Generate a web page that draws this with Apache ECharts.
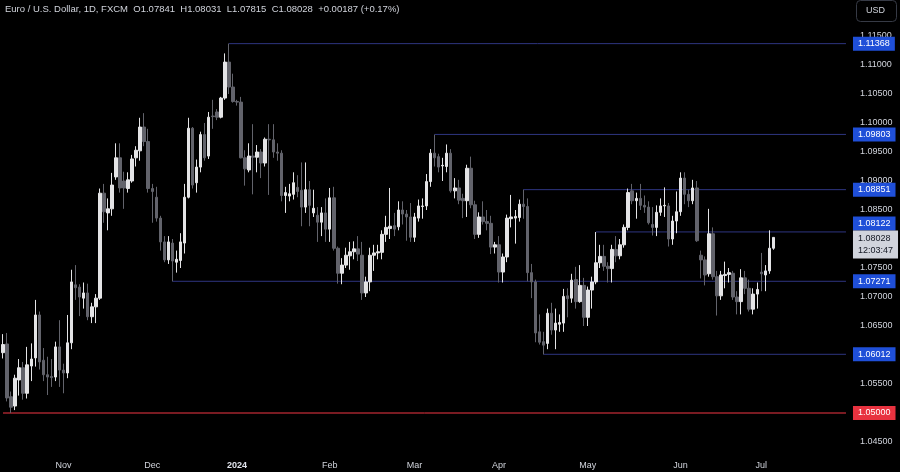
<!DOCTYPE html>
<html>
<head>
<meta charset="utf-8">
<script src="https://cdn.jsdelivr.net/npm/echarts@6/dist/echarts.min.js"></script>
<style>
html, body { margin: 0; padding: 0; background: #000; }
#chart { width: 900px; height: 472px; }
</style>
</head>
<body>
<div id="chart"></div>
<script>
// EURUSD daily candles, 11 Oct 2023 -> 4 Jul 2024 (weekdays)
const symbolTitle = 'Euro / U.S. Dollar, 1D, FXCM';
const firstDate = '2023-10-11';
const futureSlots = 18;
const countdown = '12:03:47';
const monthNames = ['Jan','Feb','Mar','Apr','May','Jun','Jul','Aug','Sep','Oct','Nov','Dec'];

const opens = [
  1.0604, 1.0619, 1.0528, 1.0512, 1.0557, 1.0578, 1.0534, 1.0581, 1.0595, 1.0669, 1.0591, 1.0566, 1.0563, 1.0562, 1.0614,
  1.0574, 1.0569, 1.0621, 1.0721, 1.0717, 1.0698, 1.0707, 1.0666, 1.0683, 1.0698, 1.0879, 1.0845, 1.0852, 1.0907, 1.0940, 1.0900, 1.0887, 1.0900, 1.0940, 1.0952, 1.0993, 1.0968,
  1.0887, 1.0872, 1.0836, 1.0795, 1.0764, 1.0793, 1.0760, 1.0763, 1.0793, 1.0872, 1.0991, 1.0897, 1.0924, 1.0980, 1.0943, 1.1012, 1.1019, 1.1010, 1.1043, 1.1105, 1.1062,
  1.1037, 1.1036, 1.0940, 1.0919, 1.0943, 1.0941, 1.0950, 1.0931, 1.0972, 1.0971, 1.0950, 1.0948, 1.0875, 1.0874, 1.0877, 1.0889, 1.0884, 1.0855, 1.0885, 1.0845, 1.0841, 1.0829, 1.0845,
  1.0817, 1.0871, 1.0784, 1.0741, 1.0755, 1.0771, 1.0778, 1.0783, 1.0772, 1.0707, 1.0726, 1.0772, 1.0776, 1.0777, 1.0808, 1.0818, 1.0823, 1.0821, 1.0850, 1.0843, 1.0838,
  1.0803, 1.0836, 1.0856, 1.0857, 1.0899, 1.0948, 1.0942, 1.0926, 1.0925, 1.0948, 1.0883, 1.0888, 1.0870, 1.0866, 1.0922, 1.0859, 1.0808, 1.0838, 1.0830, 1.0827, 1.0786,
  1.0790, 1.0743, 1.0769, 1.0835, 1.0836, 1.0837, 1.0860, 1.0856, 1.0742, 1.0726, 1.0640, 1.0623, 1.0620, 1.0672, 1.0643, 1.0653, 1.0655, 1.0702, 1.0698, 1.0730, 1.0692, 1.0720,
  1.0665, 1.0712, 1.0726, 1.0759, 1.0770, 1.0753, 1.0749, 1.0782, 1.0771, 1.0790, 1.0820, 1.0883, 1.0866, 1.0870, 1.0858, 1.0855, 1.0825, 1.0820, 1.0846, 1.0857, 1.0857, 1.0800, 1.0831,
  1.0847, 1.0905, 1.0877, 1.0866, 1.0888, 1.0772, 1.0764, 1.0740, 1.0809, 1.0735, 1.0702, 1.0737, 1.0739, 1.0741, 1.0700, 1.0692, 1.0733, 1.0715, 1.0679, 1.0705,
  1.0743, 1.0738, 1.0745, 1.07841
];
const highs = [
  1.0636, 1.0638, 1.0537, 1.0566, 1.0593, 1.0588, 1.0614, 1.0620, 1.0695, 1.0675, 1.0612, 1.0597, 1.0593, 1.0623, 1.0660,
  1.0585, 1.0669, 1.0747, 1.0755, 1.0722, 1.0725, 1.0723, 1.0690, 1.0705, 1.0887, 1.0895, 1.0870, 1.0914, 1.0965, 1.0965, 1.0916, 1.0915, 1.0945, 1.0960, 1.1009, 1.1017, 1.0990,
  1.0895, 1.0890, 1.0840, 1.0805, 1.0805, 1.0800, 1.0780, 1.0810, 1.0895, 1.1009, 1.0993, 1.0937, 1.0985, 1.1000, 1.1019, 1.1040, 1.1024, 1.1045, 1.1120, 1.1137, 1.1085,
  1.1040, 1.1045, 1.0953, 1.0965, 1.0998, 1.0962, 1.0955, 1.0975, 1.0998, 1.0998, 1.0965, 1.0953, 1.0890, 1.0895, 1.0915, 1.0910, 1.0932, 1.0932, 1.0900, 1.0885, 1.0855, 1.0855, 1.0870,
  1.0888, 1.0890, 1.0787, 1.0767, 1.0785, 1.0795, 1.0796, 1.0805, 1.0795, 1.0735, 1.0785, 1.0790, 1.0790, 1.0815, 1.0840, 1.0888, 1.0845, 1.0865, 1.0865, 1.0850, 1.0862,
  1.0845, 1.0868, 1.0870, 1.0912, 1.0955, 1.0980, 1.0947, 1.0940, 1.0963, 1.0955, 1.0905, 1.0902, 1.0878, 1.0928, 1.0942, 1.0866, 1.0846, 1.0865, 1.0850, 1.0840, 1.0795,
  1.0805, 1.0775, 1.0842, 1.0876, 1.0850, 1.0868, 1.0885, 1.0870, 1.0757, 1.0730, 1.0670, 1.0640, 1.0680, 1.0690, 1.0680, 1.0670, 1.0714, 1.0715, 1.0740, 1.0752, 1.0755, 1.0733,
  1.0718, 1.0735, 1.0812, 1.0790, 1.0790, 1.0760, 1.0790, 1.0805, 1.0800, 1.0825, 1.0887, 1.0895, 1.0880, 1.0895, 1.0875, 1.0865, 1.0855, 1.0858, 1.0870, 1.0889, 1.0862, 1.0840, 1.0882,
  1.0915, 1.0915, 1.0885, 1.0902, 1.0900, 1.0780, 1.0770, 1.0852, 1.0820, 1.0745, 1.0745, 1.0761, 1.0750, 1.0745, 1.0710, 1.0748, 1.0745, 1.0730, 1.0715, 1.0725,
  1.0776, 1.0755, 1.0815, 1.08031
];
const lows = [
  1.0594, 1.0520, 1.0500, 1.0505, 1.0530, 1.0523, 1.0525, 1.0555, 1.0580, 1.0575, 1.0555, 1.0531, 1.0545, 1.0555, 1.0545,
  1.0534, 1.0560, 1.0610, 1.0695, 1.0667, 1.0680, 1.0660, 1.0655, 1.0655, 1.0695, 1.0828, 1.0815, 1.0840, 1.0902, 1.0880, 1.0852, 1.0880, 1.0897, 1.0925, 1.0935, 1.0960, 1.0880,
  1.0828, 1.0830, 1.0780, 1.0760, 1.0757, 1.0727, 1.0742, 1.0750, 1.0775, 1.0870, 1.0887, 1.0880, 1.0915, 1.0935, 1.0938, 1.0990, 1.1005, 1.1008, 1.1040, 1.1050, 1.1035,
  1.1030, 1.0939, 1.0892, 1.0915, 1.0877, 1.0915, 1.0905, 1.0925, 1.0876, 1.0940, 1.0935, 1.0865, 1.0845, 1.0865, 1.0868, 1.0872, 1.0822, 1.0845, 1.0822, 1.0838, 1.0795, 1.0805, 1.0795,
  1.0795, 1.0780, 1.0723, 1.0722, 1.0750, 1.0747, 1.0765, 1.0762, 1.0695, 1.0700, 1.0710, 1.0745, 1.0765, 1.0765, 1.0795, 1.0800, 1.0805, 1.0815, 1.0825, 1.0797, 1.0795,
  1.0795, 1.0830, 1.0835, 1.0850, 1.0890, 1.0925, 1.0915, 1.0900, 1.0915, 1.0880, 1.0870, 1.0860, 1.0836, 1.0838, 1.0853, 1.0800, 1.0802, 1.0825, 1.0815, 1.0774, 1.0775,
  1.0725, 1.0725, 1.0760, 1.0820, 1.0792, 1.0830, 1.0835, 1.0727, 1.0698, 1.0622, 1.0618, 1.0601, 1.0610, 1.0635, 1.0610, 1.0640, 1.0640, 1.0665, 1.0690, 1.0680, 1.0690, 1.0650,
  1.0650, 1.0680, 1.0722, 1.0750, 1.0745, 1.0725, 1.0725, 1.0760, 1.0765, 1.0785, 1.0815, 1.0860, 1.0835, 1.0850, 1.0845, 1.0825, 1.0806, 1.0805, 1.0840, 1.0838, 1.0787, 1.0790, 1.0810,
  1.0840, 1.0860, 1.0855, 1.0860, 1.0795, 1.0732, 1.0720, 1.0735, 1.0730, 1.0668, 1.0695, 1.0715, 1.0725, 1.0695, 1.0670, 1.0670, 1.0705, 1.0675, 1.0670, 1.0680,
  1.0710, 1.0710, 1.0740, 1.07815
];
const closes = [
  1.0618, 1.0526, 1.0510, 1.0560, 1.0578, 1.0534, 1.0583, 1.0593, 1.0669, 1.0588, 1.0566, 1.0562, 1.0561, 1.0614, 1.0574,
  1.0569, 1.0621, 1.0726, 1.0716, 1.0700, 1.0707, 1.0666, 1.0683, 1.0698, 1.0879, 1.0847, 1.0852, 1.0893, 1.0940, 1.0888, 1.0888, 1.0902, 1.0938, 1.0953, 1.0993, 1.0968, 1.0887,
  1.0882, 1.0836, 1.0795, 1.0764, 1.0795, 1.0762, 1.0765, 1.0795, 1.0872, 1.0991, 1.0893, 1.0924, 1.0980, 1.0940, 1.1010, 1.1011, 1.1010, 1.1043, 1.1105, 1.1062, 1.1037,
  1.1036, 1.0940, 1.0921, 1.0943, 1.0941, 1.0950, 1.0931, 1.0972, 1.0971, 1.0950, 1.0948, 1.0875, 1.0880, 1.0878, 1.0897, 1.0882, 1.0855, 1.0885, 1.0858, 1.0853, 1.0829, 1.0845, 1.0817,
  1.0871, 1.0784, 1.0741, 1.0755, 1.0772, 1.0778, 1.0783, 1.0774, 1.0707, 1.0726, 1.0772, 1.0776, 1.0778, 1.0808, 1.0820, 1.0822, 1.0817, 1.0850, 1.0843, 1.0838, 1.0803,
  1.0838, 1.0857, 1.0857, 1.0899, 1.0948, 1.0940, 1.0924, 1.0927, 1.0948, 1.0883, 1.0888, 1.0867, 1.0866, 1.0922, 1.0859, 1.0808, 1.0838, 1.0830, 1.0827, 1.0786, 1.0790,
  1.0743, 1.0769, 1.0836, 1.0838, 1.0839, 1.0860, 1.0856, 1.0742, 1.0726, 1.0638, 1.0622, 1.0617, 1.0672, 1.0643, 1.0655, 1.0656, 1.0701, 1.0697, 1.0729, 1.0692, 1.0720, 1.0665,
  1.0712, 1.0726, 1.0759, 1.0770, 1.0753, 1.0749, 1.0782, 1.0771, 1.0790, 1.0820, 1.0880, 1.0866, 1.0870, 1.0858, 1.0855, 1.0828, 1.0820, 1.0846, 1.0857, 1.0858, 1.0800, 1.0831, 1.0847,
  1.0905, 1.0877, 1.0866, 1.0888, 1.0797, 1.0764, 1.0738, 1.0809, 1.0735, 1.0702, 1.0738, 1.0739, 1.0742, 1.0700, 1.0692, 1.0733, 1.0715, 1.0679, 1.0705, 1.0713,
  1.0740, 1.0745, 1.07841, 1.08028
];

// horizontal levels drawn from a swing point to the right edge
const levelValues = [1.11368, 1.09803, 1.08851, 1.08122, 1.07271, 1.06012];
const levelStarts = ['2023-12-28', '2024-03-08', '2024-04-09', '2024-05-03', '2023-12-08', '2024-04-16'];
const redLevel = 1.05;

// price axis
const priceMin = 1.04;
const priceMax = 1.12;
const priceStep = 0.005;

const font = 'Liberation Sans, Arial, sans-serif';
const levelColor = '#2e3580';
const tagBlue = '#1f4fd8';
const tagRed = '#e8323f';

const dates = [];
let d = new Date(firstDate + 'T00:00:00Z');
while (dates.length < opens.length + futureSlots) {
  const wd = d.getUTCDay();
  if (wd !== 0 && wd !== 6) dates.push(d.toISOString().slice(0, 10));
  d.setUTCDate(d.getUTCDate() + 1);
}
const lastIdx = opens.length - 1;
const lastDate = dates[dates.length - 1];
const candles = opens.map((o, i) => [o, closes[i], lows[i], highs[i]]);

const monthStarts = new Set();
for (let i = 1; i < dates.length; i++) {
  if (dates[i].slice(5, 7) !== dates[i - 1].slice(5, 7)) monthStarts.add(i);
}

const chg = closes[lastIdx] - closes[lastIdx - 1];
const pct = chg / closes[lastIdx - 1] * 100;
const sign = chg >= 0 ? '+' : '';
const headerText = symbolTitle +
  '  O' + opens[lastIdx].toFixed(5) +
  '  H' + highs[lastIdx].toFixed(5) +
  '  L' + lows[lastIdx].toFixed(5) +
  '  C' + closes[lastIdx].toFixed(5) +
  '  ' + sign + chg.toFixed(5) + ' (' + sign + pct.toFixed(2) + '%)';

// each level is a flat two-point line series
const levelSeries = levelValues.map((v, k) => ({
  type: 'line',
  data: [[levelStarts[k], v], [lastDate, v]],
  symbol: 'none',
  silent: true,
  lineStyle: { color: levelColor, width: 1 },
  z: 1
}));
levelSeries.push({
  type: 'line',
  data: [[dates[0], redLevel], [lastDate, redLevel]],
  symbol: 'none',
  silent: true,
  lineStyle: { color: '#f23645', width: 1 },
  z: 1
});

const chart = echarts.init(document.getElementById('chart'));
const option = {
  backgroundColor: '#000',
  animation: false,
  title: {
    text: headerText,
    left: 5,
    top: 4,
    padding: 0,
    textStyle: { color: '#d1d4dc', fontSize: 9.5, fontWeight: 'normal', fontFamily: font }
  },
  grid: { left: 1, right: 52, top: 7, bottom: 1 },
  xAxis: {
    type: 'category',
    data: dates,
    boundaryGap: true,
    offset: -10,
    axisLine: { show: false },
    axisTick: { show: false },
    splitLine: { show: false },
    axisLabel: {
      interval: (i) => monthStarts.has(i),
      margin: 0,
      color: '#d1d4dc',
      fontSize: 9,
      fontFamily: font,
      formatter: (v) => {
        const m = +v.slice(5, 7);
        return m === 1 ? '{y|' + v.slice(0, 4) + '}' : monthNames[m - 1];
      },
      rich: { y: { fontWeight: 'bold', fontSize: 9, color: '#e0e3eb', fontFamily: font } }
    }
  },
  yAxis: {
    type: 'value',
    position: 'right',
    min: priceMin,
    max: priceMax,
    interval: priceStep,
    axisLine: { show: false },
    axisTick: { show: false },
    splitLine: { show: false },
    axisLabel: {
      margin: 12,
      color: '#d1d4dc',
      fontSize: 9,
      fontFamily: font,
      formatter: (v) => (v < 1.0425 || v > 1.1175) ? '' : v.toFixed(5)
    }
  },
  series: levelSeries.concat([{
    type: 'candlestick',
    data: candles,
    barWidth: 3,
    z: 2,
    itemStyle: {
      color: '#e4e4e6',
      color0: '#62636b',
      borderColor: '#e4e4e6',
      borderColor0: '#62636b',
      borderWidth: 1
    }
  }])
};
chart.setOption(option);

// price tags on the right scale, placed through the y axis
const tagX = chart.convertToPixel({ xAxisIndex: 0 }, lastDate) + 7;
const lastY = chart.convertToPixel({ yAxisIndex: 0 }, closes[lastIdx]);
const lastTop = lastY - 7;
function tag(value, bg, fg, text) {
  let y = chart.convertToPixel({ yAxisIndex: 0 }, value);
  let va = 'middle';
  // keep clear of the last-price tag, like the platform does
  if (y < lastY && y > lastTop - 8) { y = lastTop; va = 'bottom'; }
  return {
    type: 'text',
    x: tagX,
    y: y,
    z: 100,
    style: {
      text: text || value.toFixed(5),
      fill: fg,
      font: '9px ' + font,
      backgroundColor: bg,
      padding: [3, 5, 2, 5],
      verticalAlign: va
    }
  };
}
const tags = levelValues.map((v) => tag(v, tagBlue, '#fff'));
tags.push(tag(redLevel, tagRed, '#fff'));

chart.setOption({
  graphic: [
    {
      type: 'rect',
      right: 3,
      top: 0,
      shape: { width: 40, height: 21, r: 4 },
      style: { fill: '#000', stroke: '#363a45', lineWidth: 1 }
    },
    {
      type: 'text',
      right: 15,
      top: 6,
      style: { text: 'USD', fill: '#d1d4dc', font: '9px ' + font }
    },
    ...tags,
    {
      type: 'text',
      x: tagX,
      y: lastTop,
      z: 101,
      style: {
        text: closes[lastIdx].toFixed(5) + '\n' + countdown,
        fill: '#131722',
        font: '9px ' + font,
        lineHeight: 12,
        backgroundColor: '#d1d4dc',
        padding: [2, 5, 2, 5],
        verticalAlign: 'top'
      }
    }
  ]
});
</script>
</body>
</html>
